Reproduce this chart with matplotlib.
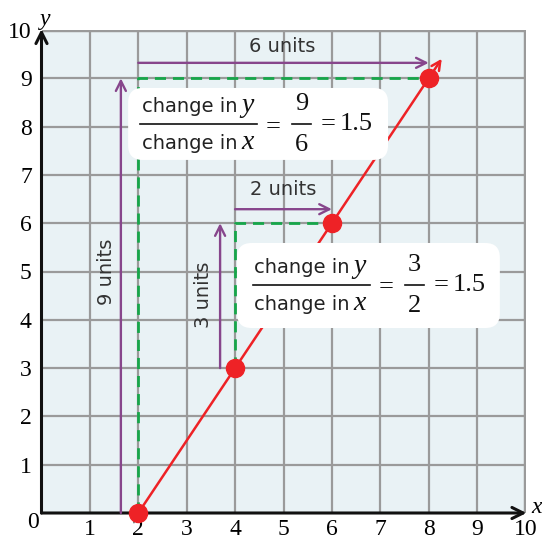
import matplotlib.pyplot as plt
from matplotlib.patches import FancyBboxPatch

# points on the line y = 1.5 (x - 2)
xs = [2, 4, 6, 8]
ys = [0, 3, 6, 9]
ticks = list(range(1, 11))
big_label = ['6 units', '9 units']
small_label = ['2 units', '3 units']
big_ratio = ('9', '6', '1.5')
small_ratio = ('3', '2', '1.5')

purple = '#87468c'
green = '#16a64a'
red = '#ee2226'
serif = 'Liberation Serif'
hand = 'DejaVu Sans'

fig = plt.figure(figsize=(5.42, 5.42), dpi=100)
ax = fig.add_axes([41.5 / 542, 1 - 513 / 542, 484 / 542, 483 / 542])
ax.set_xlim(0, 10)
ax.set_ylim(0, 10)
ax.set_facecolor('#e9f2f5')
for s in ax.spines.values():
    s.set_visible(False)
ax.set_xticks(ticks)
ax.set_yticks(ticks)
ax.set_xticklabels([str(t) for t in ticks], family=serif)
ax.set_yticklabels([str(t) for t in ticks], family=serif)
ax.tick_params(length=0, labelsize=17)
ax.tick_params(axis='x', pad=4)
ax.tick_params(axis='y', pad=7)
ax.grid(color='#9a9a9a', lw=1.6, zorder=0)
ax.set_axisbelow(True)
ax.axvline(10, color='#9a9a9a', lw=3.2)
ax.axhline(10, color='#9a9a9a', lw=3.2)

# axes with arrows
axis_arr = dict(arrowstyle='->', color='#111111', lw=2.2, mutation_scale=20, shrinkA=0, shrinkB=0)
ax.annotate('', xy=(10.02, 0), xytext=(0, 0), annotation_clip=False, arrowprops=axis_arr)
ax.annotate('', xy=(0, 10.02), xytext=(0, 0), annotation_clip=False, arrowprops=axis_arr)
ax.text(-0.18, -0.19, '0', family=serif, fontsize=17, ha='center', va='center')
ax.text(0.07, 10.22, 'y', family=serif, style='italic', fontsize=17, ha='center', va='center')
ax.text(10.23, 0.12, 'x', family=serif, style='italic', fontsize=17, ha='center', va='center')

# the line and its arrow
slope = (ys[-1] - ys[0]) / (xs[-1] - xs[0])
tip = (xs[-1] + 0.27, ys[-1] + 0.27 * slope)
ax.plot(xs, ys, color=red, lw=1.8, zorder=3)
ax.annotate('', xy=tip, xytext=(xs[-1], ys[-1]), annotation_clip=False,
            arrowprops=dict(arrowstyle='->', color=red, lw=1.8, mutation_scale=16, shrinkA=0, shrinkB=0), zorder=3)

# green dashed guides
dash = dict(color=green, lw=2, ls=(0, (4, 2.5)), zorder=3)
ax.plot([xs[0], xs[0], xs[3]], [ys[0], ys[3], ys[3]], **dash)
ax.plot([xs[1], xs[1], xs[2]], [ys[1], ys[2], ys[2]], **dash)

arr = dict(arrowstyle='->', color=purple, lw=1.7, mutation_scale=18, shrinkA=0, shrinkB=0)
lab = dict(family=hand, fontsize=14, color='#333333', ha='center', va='center')
# big triangle arrows
ax.annotate('', xy=(xs[3], ys[3] + 0.32), xytext=(xs[0], ys[3] + 0.32), arrowprops=arr, zorder=3)
ax.annotate('', xy=(xs[0] - 0.36, ys[3]), xytext=(xs[0] - 0.36, ys[0]), arrowprops=arr, zorder=3)
ax.text(4.97, 9.65, big_label[0], **lab)
ax.text(1.35, 4.99, big_label[1], rotation=90, **lab)
# small triangle arrows
ax.annotate('', xy=(xs[2], ys[2] + 0.29), xytext=(xs[1], ys[2] + 0.29), arrowprops=arr, zorder=3)
ax.annotate('', xy=(xs[1] - 0.31, ys[2]), xytext=(xs[1] - 0.31, ys[1]), arrowprops=arr, zorder=3)
ax.text(5.0, 6.69, small_label[0], **lab)
ax.text(3.34, 4.51, small_label[1], rotation=90, **lab)

# white boxes with the ratios
for (x0, y0, w, h) in [(1.79, 7.31, 5.37, 1.49), (4.04, 3.83, 5.43, 1.76)]:
    ax.add_patch(FancyBboxPatch((x0 + 0.2, y0 + 0.2), w - 0.4, h - 0.4,
                                boxstyle='round,pad=0.2,rounding_size=0.3',
                                fc='white', ec='none', zorder=4))


def ratio(cx, cy, n, d, v):
    word = dict(family=hand, fontsize=14, color='#222222', ha='right', va='center', zorder=5)
    var = dict(family=serif, style='italic', fontsize=20, color='#111111', ha='left', va='center', zorder=5)
    num = dict(family=serif, fontsize=19, color='#111111', ha='center', va='center', zorder=5)
    ax.text(cx + 0.8, cy + 0.36, 'change in', **word)
    ax.text(cx + 0.88, cy + 0.38, 'y', **var)
    ax.text(cx + 0.8, cy - 0.40, 'change in', **word)
    ax.text(cx + 0.88, cy - 0.38, 'x', **var)
    ax.plot([cx - 1.21, cx + 1.21], [cy, cy], color='#111111', lw=1.2, zorder=5)
    ax.text(cx + 1.55, cy - 0.05, '=', **num)
    ax.text(cx + 2.13, cy + 0.42, n, **num)
    ax.text(cx + 2.13, cy - 0.44, d, **num)
    ax.plot([cx + 1.93, cx + 2.33], [cy, cy], color='#111111', lw=1.2, zorder=5)
    ax.text(cx + 2.68, cy, '=', **num)
    ax.text(cx + 3.27, cy, v, **num)


ratio(3.24, 8.05, *big_ratio)
ratio(5.57, 4.72, *small_ratio)

# red dots
ax.plot(xs, ys, 'o', color=red, ms=13, zorder=6, clip_on=False)

fig.savefig('out.png', dpi=100)
